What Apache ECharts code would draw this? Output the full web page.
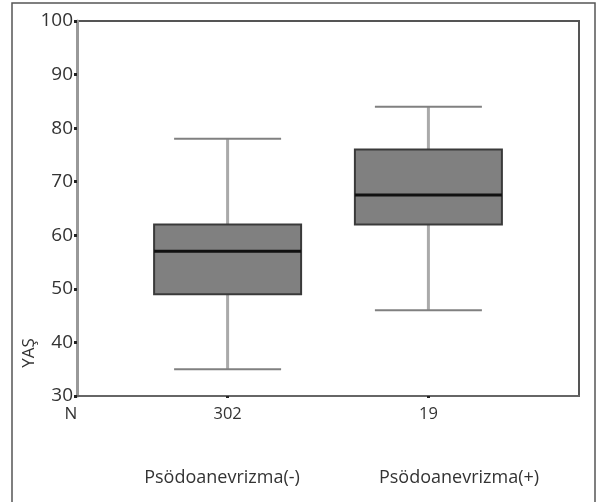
<!DOCTYPE html>
<html>
<head>
<meta charset="utf-8">
<script src="https://cdn.jsdelivr.net/npm/echarts@6/dist/echarts.min.js"></script>
<style>
  html, body { margin: 0; padding: 0; background: #fff; }
  #main { width: 598px; height: 502px; }
</style>
</head>
<body>
<div id="main"></div>
<script>
// gruplar ve kutu grafigi degerleri (YAS)
var groups = ['Psödoanevrizma(-)', 'Psödoanevrizma(+)'];
var counts = [302, 19];
var mins = [35, 46];
var q1s = [49, 62];
var medians = [57, 67.5];
var q3s = [62, 76];
var maxs = [78, 84];
var yTicks = [30, 40, 50, 60, 70, 80, 90, 100];

var chart = echarts.init(document.getElementById('main'));

// 5 slot, kutular 1. ve 3. slotta
var slotIdx = [1, 3];
var slots = ['', '', '', '', ''];
for (var i = 0; i < groups.length; i++) {
  slots[slotIdx[i]] = String(counts[i]);
}
var boxData = [];
for (var j = 0; j < groups.length; j++) {
  boxData.push([slotIdx[j], mins[j], q1s[j], medians[j], q3s[j], maxs[j]]);
}

var BOX_W = 147, CAP_W = 107;

function renderBox(params, api) {
  var x = api.value(0);
  var pMin = api.coord([x, api.value(1)]);
  var pQ1 = api.coord([x, api.value(2)]);
  var pMed = api.coord([x, api.value(3)]);
  var pQ3 = api.coord([x, api.value(4)]);
  var pMax = api.coord([x, api.value(5)]);
  var cx = pMed[0];
  var hb = BOX_W / 2, hc = CAP_W / 2;
  return {
    type: 'group',
    children: [
      { type: 'line', shape: { x1: cx, y1: pMax[1], x2: cx, y2: pQ3[1] },
        style: { stroke: '#aaaaaa', lineWidth: 3 } },
      { type: 'line', shape: { x1: cx, y1: pQ1[1], x2: cx, y2: pMin[1] },
        style: { stroke: '#aaaaaa', lineWidth: 3 } },
      { type: 'line', shape: { x1: cx - hc, y1: pMax[1], x2: cx + hc, y2: pMax[1] },
        style: { stroke: '#808080', lineWidth: 2 } },
      { type: 'line', shape: { x1: cx - hc, y1: pMin[1], x2: cx + hc, y2: pMin[1] },
        style: { stroke: '#808080', lineWidth: 2 } },
      { type: 'rect', shape: { x: cx - hb, y: pQ3[1], width: BOX_W, height: pQ1[1] - pQ3[1] },
        style: { fill: '#808080', stroke: '#3a3a3a', lineWidth: 2 } },
      { type: 'line', shape: { x1: cx - hb, y1: pMed[1], x2: cx + hb, y2: pMed[1] },
        style: { stroke: '#111111', lineWidth: 3 } }
    ]
  };
}

var option = {
  backgroundColor: '#ffffff',
  animation: false,
  textStyle: { fontFamily: 'Open Sans' },
  grid: {
    left: 77, top: 21, right: 19, bottom: 106,
    show: true, borderColor: '#555', borderWidth: 2, backgroundColor: 'transparent'
  },
  xAxis: {
    type: 'category',
    data: slots,
    boundaryGap: true,
    axisLine: { lineStyle: { color: '#666', width: 2 } },
    axisTick: {
      show: true, alignWithLabel: true, length: 2,
      interval: function (idx) { return slots[idx] !== ''; },
      lineStyle: { color: '#222', width: 3 }
    },
    axisLabel: { color: '#333', fontSize: 16.5, margin: 10, interval: 0 },
    splitLine: { show: false }
  },
  yAxis: {
    type: 'value',
    min: yTicks[0], max: yTicks[yTicks.length - 1], interval: 10,
    axisLine: { show: true, lineStyle: { color: '#999', width: 3 } },
    axisTick: { show: true, length: 3, lineStyle: { color: '#222', width: 3 } },
    axisLabel: { color: '#333', fontSize: 19, margin: 4 },
    splitLine: { show: false }
  },
  series: [{
    type: 'custom',
    renderItem: renderBox,
    data: boxData,
    encode: { x: 0, y: [1, 2, 3, 4, 5] }
  }],
  graphic: [
    { type: 'rect', shape: { x: 12, y: 3, width: 583, height: 520 },
      style: { fill: 'none', stroke: '#555', lineWidth: 1.5 }, silent: true },
    { type: 'text', x: 29, y: 353, rotation: Math.PI / 2,
      style: { text: 'YAŞ', fill: '#333', fontSize: 17, fontFamily: 'Open Sans',
        align: 'center', verticalAlign: 'middle' } },
    { type: 'text', x: 71, y: 414,
      style: { text: 'N', fill: '#333', fontSize: 17, fontFamily: 'Open Sans',
        align: 'center', verticalAlign: 'middle' } },
    { type: 'text', x: 222, y: 478,
      style: { text: groups[0], fill: '#333', fontSize: 18, fontFamily: 'Open Sans',
        align: 'center', verticalAlign: 'middle' } },
    { type: 'text', x: 459, y: 478,
      style: { text: groups[1], fill: '#333', fontSize: 18, fontFamily: 'Open Sans',
        align: 'center', verticalAlign: 'middle' } }
  ]
};

chart.setOption(option);
</script>
</body>
</html>
